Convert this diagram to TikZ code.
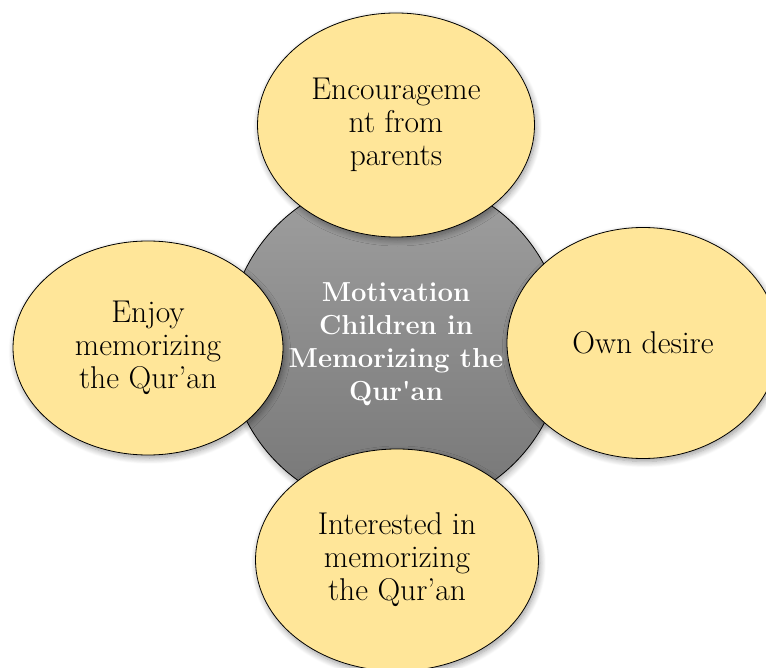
\documentclass[tikz,border=0pt]{standalone}
\usetikzlibrary{shapes.geometric,shadows.blur}
\definecolor{petal}{HTML}{FFE699}
\definecolor{hubtop}{HTML}{A0A0A0}
\definecolor{hubbot}{HTML}{767676}
\tikzset{
  petal/.style={ellipse, draw=black, line width=0.8pt, fill=petal, inner sep=0pt,
    align=center, font=\fontsize{31.5}{33}\selectfont, text=black,
    blur shadow={shadow xshift=1.5pt, shadow yshift=-3pt, shadow blur steps=8, shadow blur radius=6pt, shadow opacity=40}},
  hub/.style={circle, draw=black, line width=0.8pt, inner sep=0pt,
    top color=hubtop, bottom color=hubbot, align=center,
    font=\fontsize{27.5}{33}\selectfont\bfseries, text=white,
    blur shadow={shadow xshift=1.5pt, shadow yshift=-3pt, shadow blur steps=8, shadow blur radius=6pt, shadow opacity=35}}
}
\begin{document}
\begin{tikzpicture}[x=1pt,y=-1pt]
\useasboundingbox (0,0) rectangle (766,668);
\node[hub, minimum size=336pt] (hub) at (396,344) {Motivation\\Children in\\Memorizing the\\Qur\textquotesingle an};
\node[petal, minimum width=277pt, minimum height=224pt] (top) at (396,125) {Encourageme\\nt from\\parents};
\node[petal, minimum width=270pt, minimum height=214pt] (left) at (148,348) {Enjoy\\memorizing\\the Qur’an};
\node[petal, minimum width=272pt, minimum height=231pt] (right) at (643,343) {Own desire};
\node[petal, minimum width=283pt, minimum height=222pt] (bottom) at (397,560) {Interested in\\memorizing\\the Qur’an};
\end{tikzpicture}
\end{document}
